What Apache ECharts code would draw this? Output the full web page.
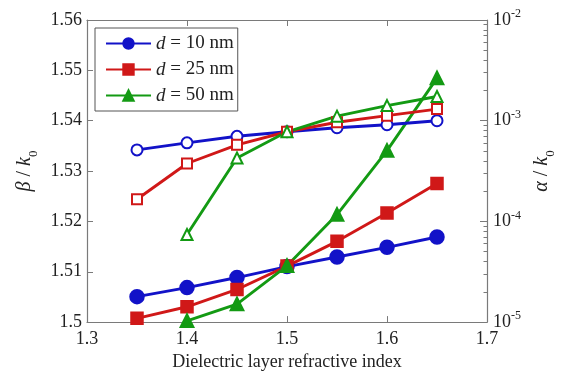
<!DOCTYPE html>
<html>
<head>
<meta charset="utf-8">
<script src="https://cdn.jsdelivr.net/npm/echarts@6/dist/echarts.min.js"></script>
<style>
  html, body { margin: 0; padding: 0; background: #fff; }
  #chart { width: 565px; height: 376px; }
</style>
</head>
<body>
<div id="chart"></div>
<script>
// refractive index of the dielectric layer
const nIndex = [1.35, 1.4, 1.45, 1.5, 1.55, 1.6, 1.65];

// beta / k0 (left axis, open markers)
const beta10 = [1.5342, 1.5356, 1.5369, 1.5378, 1.5386, 1.5392, 1.5400];
const beta25 = [1.5244, 1.5315, 1.5352, 1.5378, 1.5397, 1.5410, 1.5423];
const beta50 = [null, 1.5174, 1.5326, 1.5378, 1.5409, 1.5430, 1.5448];

// alpha / k0 (right log axis, filled markers)
const alpha10 = [1.79e-5, 2.2e-5, 2.77e-5, 3.56e-5, 4.43e-5, 5.53e-5, 7.0e-5];
const alpha25 = [1.09e-5, 1.42e-5, 2.11e-5, 3.6e-5, 6.34e-5, 1.21e-4, 2.38e-4];
const alpha50 = [null, 1.03e-5, 1.51e-5, 3.62e-5, 1.17e-4, 5.05e-4, 2.65e-3];

const legendNames = ['d = 10 nm', 'd = 25 nm', 'd = 50 nm'];
const logMajor = [1e-5, 1e-4, 1e-3, 1e-2];
const logMinor = [];
[1e-5, 1e-4, 1e-3].forEach(b => { for (let k = 2; k <= 9; k++) logMinor.push(b * k); });

const FONT = "'Liberation Serif', 'Times New Roman', serif";
const AXIS = '#7a7a7a';
const TXT = '#222';
const BLUE = '#1212c8', RED = '#d01818', GREEN = '#139a13';

const pairs = (ys) => nIndex.map((x, i) => [x, ys[i]]).filter(p => p[1] != null);

const chart = echarts.init(document.getElementById('chart'), null, { renderer: 'canvas' });

const nameRich = {
  i: { fontFamily: FONT, fontSize: 20, fontStyle: 'italic', color: TXT, verticalAlign: 'bottom', padding: [0, 0, 5, 0] },
  n: { fontFamily: FONT, fontSize: 20, color: TXT, verticalAlign: 'bottom', padding: [0, 0, 5, 0] },
  sub: { fontFamily: FONT, fontSize: 13, color: TXT, verticalAlign: 'bottom' }
};

function lineSeries(name, ys, color, symbol, size, yIdx) {
  return {
    name: name,
    type: 'line',
    xAxisIndex: 0,
    yAxisIndex: yIdx,
    data: pairs(ys),
    symbol: symbol,
    symbolSize: size,
    showAllSymbol: true,
    clip: false,
    lineStyle: { color: color, width: 2.9 },
    itemStyle: { color: color, borderColor: color, borderWidth: 2.5 },
    emphasis: { disabled: true },
    animation: false
  };
}

const option = {
  backgroundColor: '#fff',
  animation: false,
  grid: { left: 87, right: 73, top: 20, bottom: 53, containLabel: false },
  legend: {
    data: legendNames,
    orient: 'vertical',
    left: 95,
    top: 28,
    padding: [6, 4, 6, 10],
    itemWidth: 45,
    itemHeight: 13,
    itemGap: 7,
    borderColor: '#555',
    borderWidth: 1,
    backgroundColor: '#fff',
    selectedMode: false,
    formatter: name => '{i|d}{t|' + name.slice(1) + '}',
    textStyle: {
      fontFamily: FONT, fontSize: 19, color: TXT,
      rich: {
        i: { fontFamily: FONT, fontSize: 19, fontStyle: 'italic', color: TXT },
        t: { fontFamily: FONT, fontSize: 19, color: TXT }
      }
    }
  },
  xAxis: [
    {
      type: 'value', position: 'bottom',
      min: 1.3, max: 1.7, interval: 0.1,
      name: 'Dielectric layer refractive index',
      nameLocation: 'middle', nameGap: 29,
      nameTextStyle: { fontFamily: FONT, fontSize: 18, color: TXT },
      axisLine: { show: true, onZero: false, lineStyle: { color: AXIS, width: 1.2 } },
      axisTick: { show: true, inside: true, length: 6, lineStyle: { color: AXIS } },
      axisLabel: { fontFamily: FONT, fontSize: 18, color: TXT, margin: 8, formatter: v => v.toFixed(1) },
      splitLine: { show: false }
    },
    {
      type: 'value', position: 'top',
      min: 1.3, max: 1.7, interval: 0.1,
      axisLine: { show: true, onZero: false, lineStyle: { color: AXIS, width: 1.2 } },
      axisTick: { show: true, inside: true, length: 6, lineStyle: { color: AXIS } },
      axisLabel: { show: false },
      splitLine: { show: false }
    }
  ],
  yAxis: [
    {
      type: 'value', position: 'left',
      min: 1.5, max: 1.56, interval: 0.01,
      name: '{i|β}{n| / }{i|k}{sub|0}',
      nameLocation: 'middle', nameGap: 47, nameRotate: 90, nameMoveOverlap: false,
      nameTextStyle: { rich: nameRich },
      axisLine: { show: true, onZero: false, lineStyle: { color: AXIS, width: 1.2 } },
      axisTick: { show: true, inside: true, length: 6, lineStyle: { color: AXIS } },
      axisLabel: { fontFamily: FONT, fontSize: 18, color: TXT, margin: 5, formatter: v => String(parseFloat(v.toFixed(2))) },
      splitLine: { show: false }
    },
    {
      type: 'log', logBase: 10, position: 'right',
      min: 1e-5, max: 1e-2,
      name: '{i|α}{n| / }{i|k}{sub|0}',
      nameLocation: 'middle', nameGap: 45, nameRotate: 90, nameMoveOverlap: false,
      nameTextStyle: { rich: nameRich },
      axisLine: { show: true, onZero: false, lineStyle: { color: AXIS, width: 1.2 } },
      axisTick: { show: true, inside: true, length: 7, lineStyle: { color: AXIS }, customValues: logMajor },
      axisLabel: {
        margin: 6,
        customValues: logMajor,
        formatter: v => '{b|10}{s|' + Math.round(Math.log10(v)) + '}',
        rich: {
          b: { fontFamily: FONT, fontSize: 18, color: TXT, lineHeight: 18, verticalAlign: 'bottom', padding: [3, 0, 0, 0] },
          s: { fontFamily: FONT, fontSize: 12, color: TXT, lineHeight: 12, verticalAlign: 'bottom', padding: [0, 0, 9, 0] }
        }
      },
      splitLine: { show: false }
    },
    {
      type: 'log', logBase: 10, position: 'right',
      min: 1e-5, max: 1e-2,
      axisLine: { show: false },
      axisTick: { show: true, inside: true, length: 3.5, lineStyle: { color: AXIS }, customValues: logMinor },
      axisLabel: { show: false },
      splitLine: { show: false }
    }
  ],
  series: [
    lineSeries('d = 10 nm', alpha10, BLUE, 'circle', 13, 1),
    lineSeries('d = 25 nm', alpha25, RED, 'rect', 11, 1),
    lineSeries('d = 50 nm', alpha50, GREEN, 'triangle', 12, 1),
    lineSeries('b10', beta10, BLUE, 'emptyCircle', 11, 0),
    lineSeries('b25', beta25, RED, 'emptyRect', 10, 0),
    lineSeries('b50', beta50, GREEN, 'emptyTriangle', 11, 0)
  ]
};

chart.setOption(option);
</script>
</body>
</html>
